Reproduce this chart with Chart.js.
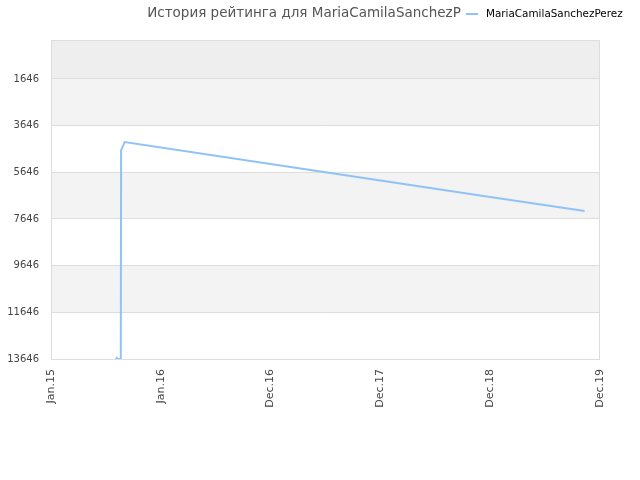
<!DOCTYPE html>
<html>
<head>
<meta charset="utf-8">
<script src="https://cdn.jsdelivr.net/npm/chart.js@4"></script>
<style>
html,body{margin:0;padding:0;background:#fff;}
#wrap{width:640px;height:480px;position:relative;}
</style>
</head>
<body>
<div id="wrap"><canvas id="c" width="640" height="480"></canvas></div>
<script>
// ---- data ----
const titleText = "История рейтинга для MariaCamilaSanchezP";
const seriesName = "MariaCamilaSanchezPerez";
const dates = ["2015-08-04","2015-08-08","2015-08-10","2015-08-21","2015-08-22","2015-08-26","2015-08-30","2015-09-03","2016-12-31","2017-12-31","2018-12-31","2019-11-10"];
const ratings = [13646,13600,13646,13646,4689,4590,4474,4346,5290,5996,6703,7303];
const xTickLabels = ["Jan.15","Jan.16","Dec.16","Dec.17","Dec.18","Dec.19"];
const xTickDates = ["2015-01-01","2016-01-01","2016-12-31","2017-12-31","2018-12-31","2019-12-31"];
const yTicks = [1646,3646,5646,7646,9646,11646,13646];
const yMin = -25, yMax = 13646;
const lineColor = "#90c3f5";

const ts = d => Date.parse(d + "T00:00:00Z");
const xTickVals = xTickDates.map(ts);
const points = dates.map((d,i)=>({x: ts(d), y: ratings[i]}));

const bands = {
  id:'bands',
  beforeDraw(chart){
    const {ctx, chartArea:a, scales:{y}} = chart;
    const edges = [yMin, ...yTicks];
    const cols = ["#eeeeee","#f3f3f3","#ffffff","#f3f3f3","#ffffff","#f3f3f3","#ffffff"];
    ctx.save();
    for(let i=0;i<edges.length-1;i++){
      const p1 = y.getPixelForValue(edges[i]), p2 = y.getPixelForValue(edges[i+1]);
      ctx.fillStyle = cols[i];
      ctx.fillRect(a.left, p1, a.right-a.left, p2-p1);
    }
    ctx.restore();
  },
  afterDraw(chart){
    const {ctx, chartArea:a} = chart;
    ctx.save();
    ctx.strokeStyle = "#dddddd"; ctx.lineWidth = 1;
    ctx.strokeRect(a.left+0.5, a.top+0.5, a.right-a.left-1, a.bottom-a.top);
    ctx.font = "13.5px 'DejaVu Sans'";
    ctx.fillStyle = "#555555";
    ctx.textAlign = "center"; ctx.textBaseline = "middle";
    ctx.fillText(titleText, 304, 13);
    ctx.strokeStyle = lineColor; ctx.lineWidth = 2;
    ctx.beginPath(); ctx.moveTo(466,14); ctx.lineTo(478,14); ctx.stroke();
    ctx.font = "10.4px 'DejaVu Sans'";
    ctx.fillStyle = "#000000"; ctx.textAlign = "left";
    ctx.fillText(seriesName, 486, 14);
    ctx.restore();
  }
};

new Chart(document.getElementById('c'), {
  type:'line',
  data:{datasets:[{label:seriesName, data:points, borderColor:lineColor, borderWidth:2, pointRadius:0, tension:0, fill:false}]},
  options:{
    responsive:false, animation:false,
    layout:{padding:{top:40,right:40,left:0,bottom:0}},
    plugins:{legend:{display:false}, title:{display:false}, tooltip:{enabled:false}},
    scales:{
      x:{type:'linear', min:xTickVals[0], max:xTickVals[xTickVals.length-1],
         afterBuildTicks(s){ s.ticks = xTickVals.map(v=>({value:v})); },
         afterFit(s){ s.height = 121; },
         grid:{display:false, drawTicks:false},
         border:{display:false},
         ticks:{autoSkip:false, minRotation:90, maxRotation:90, padding:10, color:"#444444", font:{family:"DejaVu Sans", size:11},
           callback(v){ const i = xTickVals.indexOf(v); return i>=0 ? xTickLabels[i] : ''; }}
      },
      y:{type:'linear', reverse:true, min:yMin, max:yMax,
         afterBuildTicks(s){ s.ticks = yTicks.map(v=>({value:v})); },
         afterFit(s){ s.width = 51; },
         grid:{color:"#dddddd", drawTicks:false},
         border:{display:false},
         ticks:{padding:12, color:"#444444", font:{family:"DejaVu Sans", size:10},
           callback(v){ return String(v); }}
      }
    }
  },
  plugins:[bands]
});
</script>
</body>
</html>
